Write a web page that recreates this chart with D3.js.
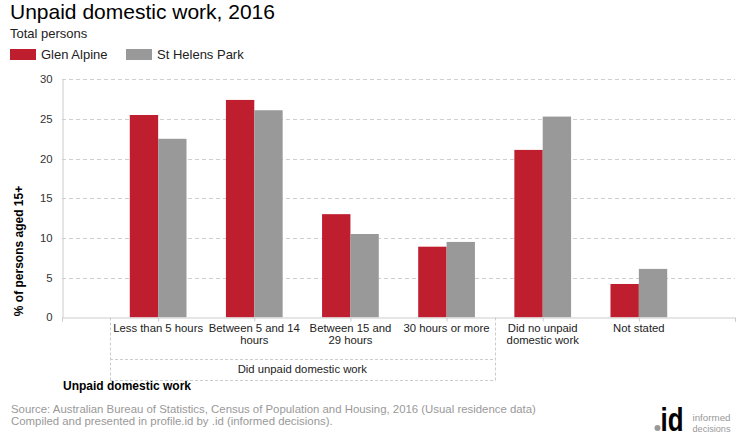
<!DOCTYPE html>
<html>
<head>
<meta charset="utf-8">
<script src="https://cdn.jsdelivr.net/npm/d3@7/dist/d3.min.js"></script>
<style>
  body { margin: 0; background: #fff; }
  svg { display: block; font-family: "Liberation Sans", Arial, sans-serif; }
</style>
</head>
<body>
<svg id="chart" width="740" height="440"></svg>
<script>
// ---- data ----
const categories = ["Less than 5 hours", "Between 5 and 14 hours", "Between 15 and 29 hours", "30 hours or more", "Did no unpaid domestic work", "Not stated"];
const categoryLabels = [["Less than 5 hours"], ["Between 5 and 14", "hours"], ["Between 15 and", "29 hours"], ["30 hours or more"], ["Did no unpaid", "domestic work"], ["Not stated"]];
const seriesNames = ["Glen Alpine", "St Helens Park"];
const glenAlpine = [25.5, 27.4, 13.0, 8.9, 21.1, 4.2];
const stHelensPark = [22.5, 26.1, 10.5, 9.5, 25.3, 6.1];
const yTicks = [0, 5, 10, 15, 20, 25, 30];
const groupLabel = "Did unpaid domestic work";
const groupSpan = [0, 3];
const colors = ["#BE1E2D", "#999999"];

const svg = d3.select("#chart");

// ---- scales ----
const plot = { left: 62, right: 735, top: 79.3, bottom: 317.3 };
const x = d3.scaleLinear().domain([-1, 6]).range([plot.left, plot.right]);
const y = d3.scaleLinear().domain([0, 30]).range([plot.bottom, plot.top]);
const step = x(1) - x(0);
const barW = step * 0.295;

// ---- title / legend ----
svg.append("text").attr("x", 10).attr("y", 19).attr("font-size", 21).attr("fill", "#000")
  .text("Unpaid domestic work, 2016");
svg.append("text").attr("x", 10).attr("y", 38).attr("font-size", 13).attr("fill", "#222")
  .text("Total persons");
const legendX = [10, 126];
seriesNames.forEach((n, i) => {
  svg.append("rect").attr("x", legendX[i]).attr("y", 49).attr("width", 26).attr("height", 11).attr("fill", colors[i]);
  svg.append("text").attr("x", legendX[i] + 31).attr("y", 59).attr("font-size", 13).attr("fill", "#222").text(n);
});

// ---- gridlines ----
svg.append("g").selectAll("line").data(yTicks.filter(d => d > 0)).join("line")
  .attr("x1", plot.left).attr("x2", plot.right)
  .attr("y1", d => Math.round(y(d)) + 0.5).attr("y2", d => Math.round(y(d)) + 0.5)
  .attr("stroke", "#d0d0d0").attr("stroke-dasharray", "4,3");

// ---- y axis ----
const yAxis = svg.append("g").attr("transform", `translate(${plot.left + 0.5},0)`)
  .call(d3.axisLeft(y).tickValues(yTicks).tickSize(0).tickPadding(10));
yAxis.select(".domain").attr("stroke", "#ccc");
yAxis.selectAll("text").attr("font-size", 11.3).attr("fill", "#333").attr("font-family", "Liberation Sans, Arial, sans-serif");

svg.append("text").attr("transform", "translate(23,251) rotate(-90)").attr("text-anchor", "middle")
  .attr("font-size", 12).attr("font-weight", "bold").attr("fill", "#000")
  .text("% of persons aged 15+");

// ---- bars ----
const series = [glenAlpine, stHelensPark];
series.forEach((vals, s) => {
  svg.append("g").selectAll("rect").data(vals).join("rect")
    .attr("x", (d, i) => x(i) - barW + s * barW)
    .attr("width", barW)
    .attr("y", d => y(d))
    .attr("height", d => y(0) - y(d))
    .attr("fill", colors[s]);
});

// ---- x axis ----
const xAxis = svg.append("g").attr("transform", `translate(0,${Math.round(plot.bottom) + 0.5})`)
  .call(d3.axisBottom(x).tickValues(d3.range(-1, 7)).tickSize(4).tickFormat(""));
xAxis.select(".domain").attr("stroke", "#ccc");
xAxis.selectAll(".tick line").attr("stroke", "#ccc");

// category labels
const labG = svg.append("g");
categoryLabels.forEach((lines, i) => {
  const t = labG.append("text").attr("text-anchor", "middle").attr("font-size", 11.3).attr("fill", "#222");
  lines.forEach((ln, j) => {
    t.append("tspan").attr("x", x(i)).attr("y", 332 + j * 12).text(ln);
  });
});

// group box
const gl = x(groupSpan[0] - 0.5), gr = x(groupSpan[1] + 0.5);
const boxTop = Math.round(plot.bottom) + 0.5, boxMid = 359.5, boxBot = 380.5;
const box = svg.append("g").attr("stroke", "#ccc").attr("stroke-dasharray", "3,2").attr("fill", "none");
box.append("line").attr("x1", Math.round(gl) + 0.5).attr("x2", Math.round(gl) + 0.5).attr("y1", boxTop).attr("y2", boxBot);
box.append("line").attr("x1", Math.round(gr) + 0.5).attr("x2", Math.round(gr) + 0.5).attr("y1", boxTop).attr("y2", boxBot);
box.append("line").attr("x1", gl).attr("x2", gr).attr("y1", boxMid).attr("y2", boxMid);
box.append("line").attr("x1", gl).attr("x2", gr).attr("y1", boxBot).attr("y2", boxBot);
svg.append("text").attr("x", (gl + gr) / 2).attr("y", 373).attr("text-anchor", "middle")
  .attr("font-size", 11.3).attr("fill", "#222").text(groupLabel);

svg.append("text").attr("x", 63).attr("y", 390).attr("font-size", 12).attr("font-weight", "bold").attr("fill", "#000")
  .text("Unpaid domestic work");

// ---- source ----
svg.append("text").attr("x", 11).attr("y", 413).attr("font-size", 11.4).attr("fill", "#999")
  .text("Source: Australian Bureau of Statistics, Census of Population and Housing, 2016 (Usual residence data)");
svg.append("text").attr("x", 11).attr("y", 425).attr("font-size", 11.4).attr("fill", "#999")
  .text("Compiled and presented in profile.id by .id (informed decisions).");

// ---- logo ----
svg.append("circle").attr("cx", 657.5).attr("cy", 428).attr("r", 3).attr("fill", "#999");
svg.append("text").attr("x", 660.5).attr("y", 431).attr("font-size", 34).attr("font-weight", "bold")
  .attr("textLength", 23).attr("lengthAdjust", "spacingAndGlyphs").attr("fill", "#000").text("id");
svg.append("text").attr("x", 692.5).attr("y", 420.5).attr("font-size", 9.5).attr("fill", "#999")
  .attr("textLength", 38).attr("lengthAdjust", "spacingAndGlyphs").text("informed");
svg.append("text").attr("x", 692.5).attr("y", 431.5).attr("font-size", 9.5).attr("fill", "#999")
  .attr("textLength", 38).attr("lengthAdjust", "spacingAndGlyphs").text("decisions");
</script>
</body>
</html>
